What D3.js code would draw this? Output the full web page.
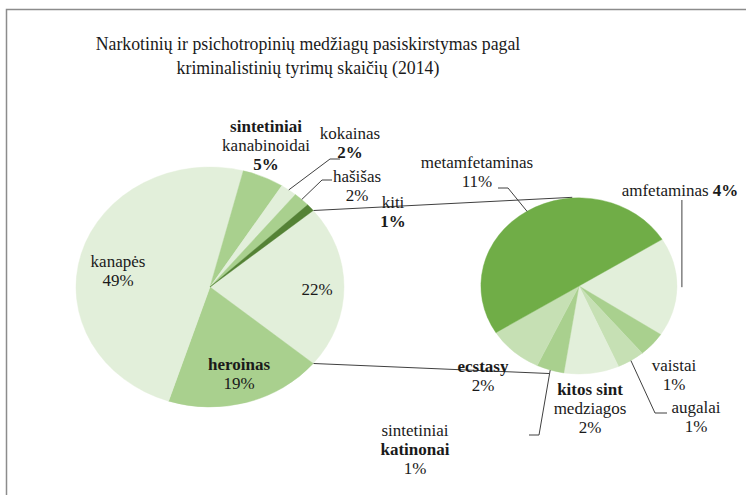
<!DOCTYPE html>
<html>
<head>
<meta charset="utf-8">
<script src="https://cdn.jsdelivr.net/npm/d3@7"></script>
<style>
  body { margin: 0; background: #fff; }
</style>
</head>
<body>
<svg id="chart" width="746" height="495"></svg>
<script>
// main pie (share of all tests, %), slice order is clockwise from the "other" slice
var mainNames = ["", "heroinas", "kanapės", "sintetiniai kanabinoidai", "kokainas", "hašišas", "kiti"];
var mainValues = [22, 19, 49, 5, 2, 2, 1];
var mainColors = ["#e2efda", "#a9d08e", "#e2efda", "#a9d08e", "#e2efda", "#a9d08e", "#548235"];

// second pie, breakdown of the 22% slice
var subNames = ["amfetaminas", "vaistai", "augalai", "kitos sint medziagos", "sintetiniai katinonai", "ecstasy", "metamfetaminas"];
var subValues = [4, 1, 1, 2, 1, 2, 11];
var subColors = ["#e2efda", "#a9d08e", "#c6e0b4", "#e2efda", "#a9d08e", "#c6e0b4", "#70ad47"];

var titleLines = ["Narkotinių ir psichotropinių medžiagų pasiskirstymas pagal", "kriminalistinių tyrimų skaičių (2014)"];

var serif = "'Liberation Serif'";
var textColor = "#1a1a1a";
var svg = d3.select("#chart");

// chart frame (only top and left edges show in the crop)
svg.append("path")
  .attr("d", "M6.5,495V9.5H746")
  .attr("fill", "none")
  .attr("stroke", "#8c8c8c")
  .attr("stroke-width", 1.5);

// title is drawn narrow in the picture, squeeze it to the reference width
var titleX = 308, titleWidth = 425;
var title = svg.append("text")
  .attr("text-anchor", "middle")
  .style("font-family", serif)
  .style("font-size", "19px")
  .style("fill", textColor);
title.selectAll("tspan")
  .data(titleLines)
  .enter()
  .append("tspan")
  .attr("x", 0)
  .attr("y", function (d, i) { return 50 + i * 24; })
  .text(function (d) { return d; });
var w = title.select("tspan").node().getComputedTextLength();
title.attr("transform", "translate(" + titleX + ",0) scale(" + (titleWidth / w) + ",1)");

// pies are slightly wider than tall in the picture
var left = { cx: 210, cy: 287, rx: 134, ry: 120 };
var right = { cx: 579, cy: 286, rx: 98, ry: 88 };

var otherFrac = mainValues[0] / d3.sum(mainValues);
var mainStart = Math.PI / 2 - otherFrac * Math.PI;
var subStart = 58 * Math.PI / 180;

var mainArcs = d3.pie().sort(null).startAngle(mainStart).endAngle(mainStart + 2 * Math.PI)(mainValues);
var subArcs = d3.pie().sort(null).startAngle(subStart).endAngle(subStart + 2 * Math.PI)(subValues);

function pointAt(p, a, k) {
  k = k || 1;
  return [p.cx + p.rx * k * Math.sin(a), p.cy - p.ry * k * Math.cos(a)];
}

var line = d3.line();

// connector lines between the two pies
var rad = Math.PI / 180;
var connectors = [
  [pointAt(left, mainArcs[0].startAngle), pointAt(right, -3.9 * rad, 1.01)],
  [pointAt(left, mainArcs[0].endAngle), pointAt(right, 197 * rad, 1.04)]
];
svg.selectAll(".conn")
  .data(connectors)
  .enter()
  .append("path")
  .attr("class", "conn")
  .attr("d", line)
  .attr("fill", "none")
  .attr("stroke", "#404040")
  .attr("stroke-width", 1);

function drawPie(p, arcs, colors) {
  var arc = d3.arc().innerRadius(0).outerRadius(p.ry);
  svg.append("g")
    .attr("transform", "translate(" + p.cx + "," + p.cy + ") scale(" + (p.rx / p.ry) + ",1)")
    .selectAll("path")
    .data(arcs)
    .enter()
    .append("path")
    .attr("d", arc)
    .attr("fill", function (d, i) { return colors[i]; })
    .attr("stroke", function (d, i) { return colors[i]; })
    .attr("stroke-width", 0.4);
}
drawPie(left, mainArcs, mainColors);
drawPie(right, subArcs, subColors);

// label placement: first baseline, name split into lines, bold line indexes, leader elbow points
var labelLayout = {
  "": { x: 317, y: 295, lines: [], bold: [] },
  "heroinas": { x: 239, y: 370, lines: ["heroinas"], bold: [0] },
  "kanapės": { x: 118, y: 267, lines: ["kanapės"], bold: [] },
  "sintetiniai kanabinoidai": { x: 266, y: 132, lines: ["sintetiniai", "kanabinoidai"], bold: [0, 2] },
  "kokainas": { x: 350, y: 139, lines: ["kokainas"], bold: [1], leader: [[330, 159], [340, 159]] },
  "hašišas": { x: 357, y: 182, lines: ["hašišas"], bold: [], leader: [[322, 180], [332, 180]] },
  "kiti": { x: 393, y: 208, lines: ["kiti"], bold: [1] },
  "amfetaminas": { x: 680, y: 196, lines: ["amfetaminas"], bold: [1], inline: true, leader: [[682, 200]], k: 1.05 },
  "vaistai": { x: 674, y: 371, lines: ["vaistai"], bold: [] },
  "augalai": { x: 696, y: 413, lines: ["augalai"], bold: [], leader: [[655, 413], [667, 413]] },
  "kitos sint medziagos": { x: 590, y: 395, lines: ["kitos sint", "medziagos"], bold: [0] },
  "sintetiniai katinonai": { x: 415, y: 436, lines: ["sintetiniai", "katinonai"], bold: [1], leader: [[539, 435], [529, 435]] },
  "ecstasy": { x: 483, y: 372, lines: ["ecstasy"], bold: [0] },
  "metamfetaminas": { x: 477, y: 168, lines: ["metamfetaminas"], bold: [], leader: [[508, 188], [498, 188]] }
};

var lineGap = 19;

function drawLabels(p, arcs, names, values) {
  arcs.forEach(function (a, i) {
    var lay = labelLayout[names[i]];
    var pct = values[i] + "%";
    if (lay.leader) {
      var start = pointAt(p, (a.startAngle + a.endAngle) / 2, lay.k || 1);
      var pts = [start].concat(lay.leader);
      if (lay.inline) pts = [start, [start[0], lay.leader[0][1]]];
      svg.append("path")
        .attr("d", line(pts))
        .attr("fill", "none")
        .attr("stroke", "#404040")
        .attr("stroke-width", 1);
    }
    var t = svg.append("text")
      .attr("x", lay.x)
      .attr("y", lay.y)
      .attr("text-anchor", "middle")
      .style("font-family", serif)
      .style("font-size", "17px")
      .style("fill", textColor);
    if (lay.inline) {
      t.append("tspan").text(lay.lines[0] + " ");
      t.append("tspan").style("font-weight", "bold").text(pct);
      return;
    }
    var all = lay.lines.concat([pct]);
    all.forEach(function (s, j) {
      t.append("tspan")
        .attr("x", lay.x)
        .attr("y", lay.y + j * lineGap)
        .style("font-weight", lay.bold.indexOf(j) >= 0 ? "bold" : "normal")
        .text(s);
    });
  });
}
drawLabels(left, mainArcs, mainNames, mainValues);
drawLabels(right, subArcs, subNames, subValues);
</script>
</body>
</html>
